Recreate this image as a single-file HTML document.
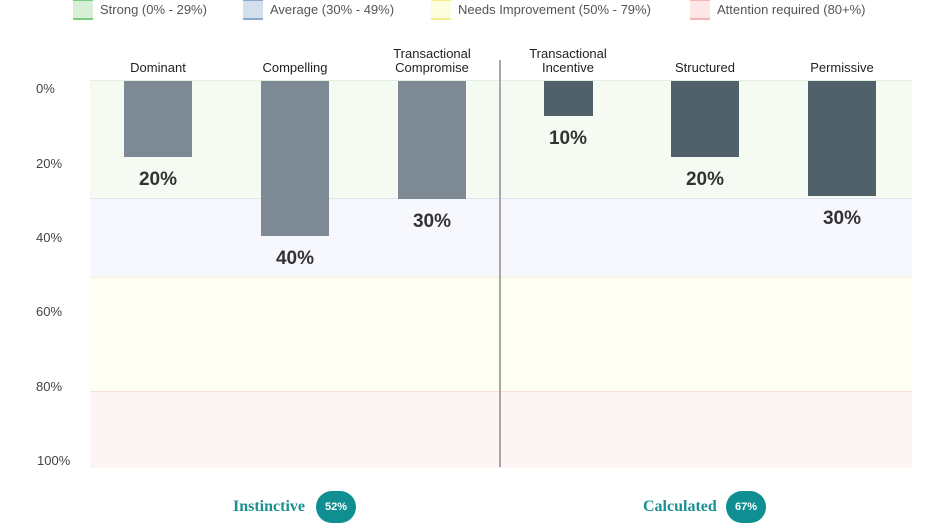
<!DOCTYPE html><html><head><style>
body{margin:0;width:948px;height:523px;background:#fff;position:relative;overflow:hidden;font-family:"Liberation Sans",sans-serif;color:#333}
div,span{position:absolute}
.sw{top:0;width:20px;height:19px}
.lg{top:2px;font-size:13px;color:#555}
.band{left:90px;width:822px}
.bar{top:81px}
.l{background:#7e8a93}.d{background:#51616a}
.cat{font-size:13px;color:#222;text-align:center;width:140px;line-height:14px}
.val{font-size:19px;font-weight:bold;color:#333;width:100px;text-align:center}
.yl{left:36px;width:40px;font-size:13px;color:#444;text-align:left}
.ft{font-family:"Liberation Serif",serif;font-weight:bold;font-size:16px;color:#1a9090}
.pill{background:#0f8f91;color:#fff;font-size:11px;font-weight:bold;border-radius:16px;width:40px;height:32px;line-height:32px;text-align:center}
</style></head><body>
<div class="sw" style="left:73px;background:#d6efd6;border-top:2px solid #7ccb7c;border-bottom:2px solid #7ccb7c;top:-1px;height:17px"></div>
<div class="lg" style="left:100px">Strong (0% - 29%)</div>
<div class="sw" style="left:243px;background:#d3dfec;border-top:2px solid #88a8cc;border-bottom:2px solid #88a8cc;top:-1px;height:17px"></div>
<div class="lg" style="left:270px">Average (30% - 49%)</div>
<div class="sw" style="left:431px;background:#fdfde0;border-top:2px solid #f2ec8a;border-bottom:2px solid #f2ec8a;top:-1px;height:17px"></div>
<div class="lg" style="left:458px">Needs Improvement (50% - 79%)</div>
<div class="sw" style="left:690px;background:#fde6e6;border-top:2px solid #f5b5b5;border-bottom:2px solid #f5b5b5;top:-1px;height:17px"></div>
<div class="lg" style="left:717px">Attention required (80+%)</div>

<div class="band" style="top:80px;height:118px;background:#f5fbf3;border-top:1px solid #e2f0e0"></div>
<div class="band" style="top:198px;height:79px;background:#f7f8fd;border-top:1px solid #dde5f0"></div>
<div class="band" style="top:277px;height:114px;background:#fffef3;border-top:1px solid #f6f3d8"></div>
<div class="band" style="top:391px;height:76px;background:#fdf5f3;border-top:1px solid #f8e0dc"></div>
<div style="left:499px;top:60px;width:2px;height:407px;background:#a8a8a8"></div>

<div class="yl" style="top:81px">0%</div>
<div class="yl" style="top:156px">20%</div>
<div class="yl" style="top:230px">40%</div>
<div class="yl" style="top:304px">60%</div>
<div class="yl" style="top:379px">80%</div>
<div class="yl" style="top:453px;left:37px">100%</div>

<div class="cat" style="left:88px;top:61px">Dominant</div>
<div class="cat" style="left:225px;top:61px">Compelling</div>
<div class="cat" style="left:362px;top:47px">Transactional<br>Compromise</div>
<div class="cat" style="left:498px;top:47px">Transactional<br>Incentive</div>
<div class="cat" style="left:635px;top:61px">Structured</div>
<div class="cat" style="left:772px;top:61px">Permissive</div>

<div class="bar l" style="left:124px;width:68px;height:76px"></div>
<div class="bar l" style="left:261px;width:68px;height:155px"></div>
<div class="bar l" style="left:398px;width:68px;height:118px"></div>
<div class="bar d" style="left:544px;width:49px;height:35px"></div>
<div class="bar d" style="left:671px;width:68px;height:76px"></div>
<div class="bar d" style="left:808px;width:68px;height:115px"></div>

<div class="val" style="left:108px;top:169px">20%</div>
<div class="val" style="left:245px;top:248px">40%</div>
<div class="val" style="left:382px;top:211px">30%</div>
<div class="val" style="left:518px;top:128px">10%</div>
<div class="val" style="left:655px;top:169px">20%</div>
<div class="val" style="left:792px;top:208px">30%</div>

<div class="ft" style="left:233px;top:498px">Instinctive</div>
<div class="pill" style="left:316px;top:491px">52%</div>
<div class="ft" style="left:643px;top:498px">Calculated</div>
<div class="pill" style="left:726px;top:491px">67%</div>
</body></html>
